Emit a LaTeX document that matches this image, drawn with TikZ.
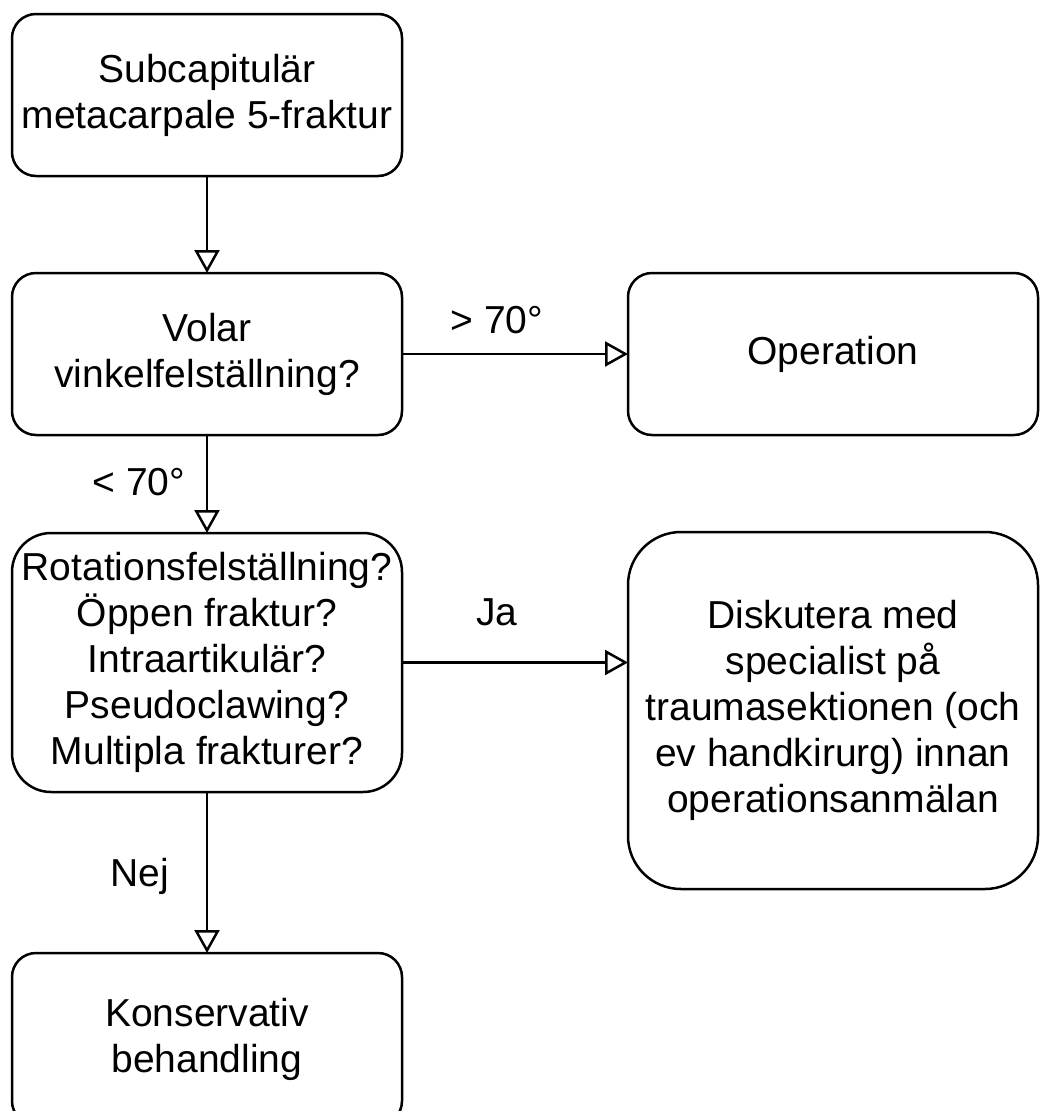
\documentclass[tikz,border=0pt]{standalone}
\usepackage{fontspec}
\setmainfont{Liberation Sans}
\usetikzlibrary{arrows.meta}

\tikzset{
    box/.style={draw, line width=2.5pt, rounded corners=#1, align=center,
        inner sep=0pt, outer sep=0pt, minimum width=390pt, minimum height=162pt,
        font=\fontsize{39}{46}\selectfont},
    box/.default=24pt,
    lbl/.style={inner sep=0pt, font=\fontsize{39}{46}\selectfont},
    flow/.style={line width=2.5pt, -{Triangle[fill=white, width=25pt, length=23pt]}}
}

\begin{document}
\begin{tikzpicture}[x=1pt, y=-1pt]

    % Page frame, the right and bottom boxes run slightly past it
    \path[use as bounding box, clip] (0,0) rectangle (1040,1111);

    % Centres of the boxes
    \coordinate (CenterFrakt) at (207,95);
    \coordinate (CenterVolar) at (207,354);
    \coordinate (CenterOp) at (833,354);
    \coordinate (CenterRot) at (207,662.5);
    \coordinate (CenterDisk) at (833,710.5);
    \coordinate (CenterKons) at (207,1039);

    % Left column
    \node[box] (frakt) at (CenterFrakt) {Subcapitulär\\metacarpale 5-fraktur};
    \node[box] (volar) at (CenterVolar) {Volar\\vinkelfelställning?};
    \node[box=39pt, minimum height=259pt] (rot) at (CenterRot)
        {Rotationsfelställning?\\Öppen fraktur?\\Intraartikulär?\\Pseudoclawing?\\Multipla frakturer?};
    \node[box, minimum height=172pt] (kons) at (CenterKons) {Konservativ\\behandling};

    % Right column
    \node[box, minimum width=410pt] (op) at (CenterOp) {Operation};
    \node[box=53pt, minimum width=410pt, minimum height=357pt] (disk) at (CenterDisk)
        {Diskutera med\\specialist på\\traumasektionen (och\\ev handkirurg) innan\\operationsanmälan};

    % Arrows with their labels
    \draw[flow] (frakt) -- (volar);
    \draw[flow] (volar) -- node[lbl, pos=0.42, anchor=base, yshift=21pt] {> 70°} (op);
    \draw[flow] (volar) -- node[lbl, midway, anchor=base, xshift=-68pt, yshift=-11pt] {< 70°} (rot);
    \draw[flow] (rot.east) -- node[lbl, pos=0.42, anchor=base, yshift=37pt] {Ja} (rot.east -| disk.west);
    \draw[flow] (rot) -- node[lbl, midway, anchor=base, xshift=-67pt, yshift=-14pt] {Nej} (kons);

\end{tikzpicture}
\end{document}
